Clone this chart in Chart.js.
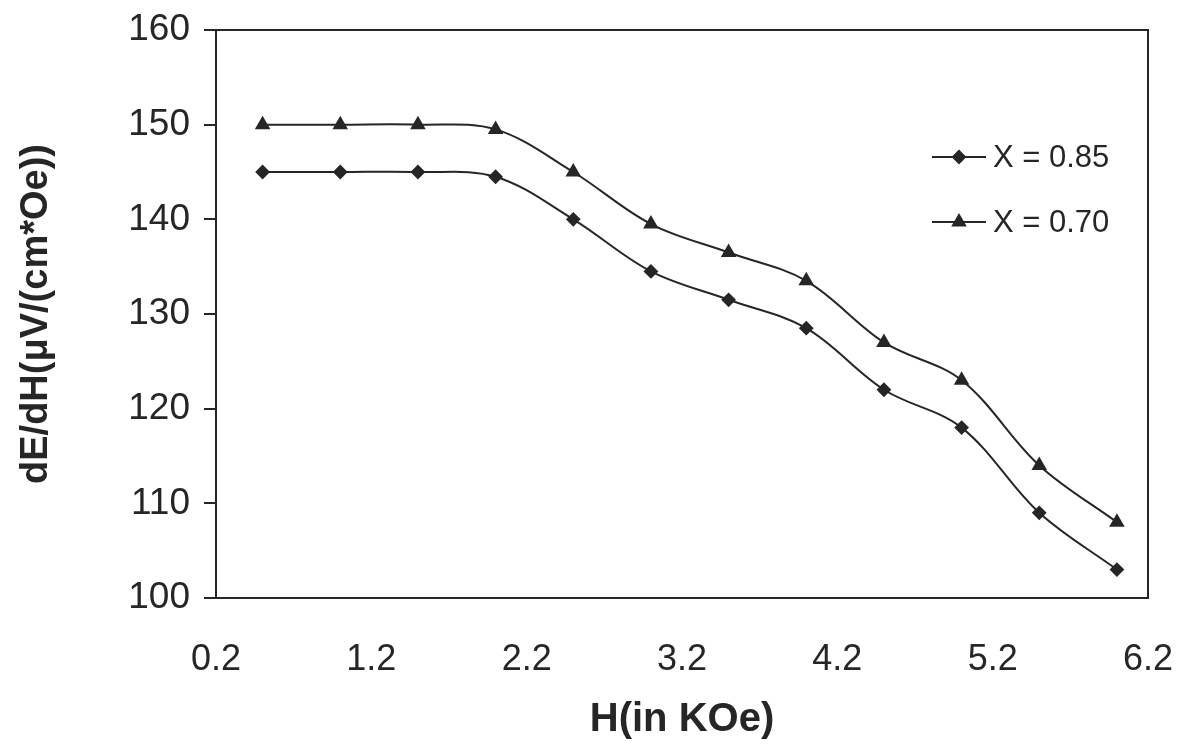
<!DOCTYPE html>
<html>
<head>
<meta charset="utf-8">
<script src="https://cdn.jsdelivr.net/npm/chart.js@4/dist/chart.umd.min.js"></script>
<style>
  html, body { margin: 0; padding: 0; background: #fff; }
  #wrap { width: 1187px; height: 744px; }
</style>
</head>
<body>
<div id="wrap"><canvas id="fieldChart"></canvas></div>
<script>
// Data
const fieldH = [0.5, 1.0, 1.5, 2.0, 2.5, 3.0, 3.5, 4.0, 4.5, 5.0, 5.5, 6.0];
const x085 = [145, 145, 145, 144.5, 140, 134.5, 131.5, 128.5, 122, 118, 109, 103];
const x070 = [150, 150, 150, 149.5, 145, 139.5, 136.5, 133.5, 127, 123, 114, 108];
const xTicks = [0.2, 1.2, 2.2, 3.2, 4.2, 5.2, 6.2];
const yTicks = [100, 110, 120, 130, 140, 150, 160];
const seriesNames = ['X = 0.85', 'X = 0.70'];

const ink = '#262626';
const fontFam = "'Liberation Sans', Arial, sans-serif";

const toPoints = (xs, ys) => xs.map((x, i) => ({ x: x, y: ys[i] }));

// box round the plot area
const frame = {
    id: 'frame',
    afterDraw(chart) {
        const { ctx, chartArea: a } = chart;
        ctx.save();
        ctx.strokeStyle = ink;
        ctx.lineWidth = 2;
        ctx.strokeRect(a.left, a.top, a.right - a.left, a.bottom - a.top);
        ctx.restore();
    }
};

// legend drawn as line + marker + text, like the original
const lineLegend = {
    id: 'lineLegend',
    afterDraw(chart) {
        const ctx = chart.ctx;
        const x0 = 932, x1 = 986, textX = 993;
        const rows = [157, 222];
        ctx.save();
        chart.data.datasets.forEach((ds, i) => {
            const y = rows[i];
            ctx.strokeStyle = ink;
            ctx.lineWidth = 2;
            ctx.beginPath();
            ctx.moveTo(x0, y);
            ctx.lineTo(x1, y);
            ctx.stroke();
            ctx.fillStyle = ink;
            Chart.helpers.drawPoint(ctx, {
                pointStyle: ds.pointStyle,
                radius: ds.pointRadius,
                borderWidth: 1
            }, (x0 + x1) / 2, y);
            ctx.font = "31px " + fontFam;
            ctx.textBaseline = 'middle';
            ctx.fillText(ds.label, textX, y + 1);
        });
        ctx.restore();
    }
};

new Chart(document.getElementById('fieldChart'), {
    type: 'line',
    data: {
        datasets: [
            {
                label: seriesNames[0],
                data: toPoints(fieldH, x085),
                borderColor: ink,
                backgroundColor: ink,
                borderWidth: 2,
                pointStyle: 'rectRot',
                pointRadius: 6,
                pointBorderColor: ink,
                pointBackgroundColor: ink,
                tension: 0.35
            },
            {
                label: seriesNames[1],
                data: toPoints(fieldH, x070),
                borderColor: ink,
                backgroundColor: ink,
                borderWidth: 2,
                pointStyle: 'triangle',
                pointRadius: 7,
                pointBorderColor: ink,
                pointBackgroundColor: ink,
                tension: 0.35
            }
        ]
    },
    options: {
        responsive: true,
        maintainAspectRatio: false,
        animation: false,
        layout: { padding: { top: 30, right: 39, left: 0, bottom: 0 } },
        plugins: {
            legend: { display: false },
            tooltip: { enabled: false }
        },
        scales: {
            x: {
                type: 'linear',
                min: 0.2,
                max: 6.2,
                afterBuildTicks: (scale) => {
                    scale.ticks = xTicks.map(v => ({ value: v }));
                },
                afterFit: (scale) => {
                    scale.height = 146;
                    scale.paddingLeft = 0;
                    scale.paddingRight = 0;
                },
                grid: { display: false, drawTicks: false },
                border: { display: false },
                ticks: {
                    color: ink,
                    padding: 40,
                    maxRotation: 0,
                    font: { family: fontFam, size: 36 },
                    callback: (v) => Number(v).toFixed(1)
                },
                title: {
                    display: true,
                    text: 'H(in KOe)',
                    color: ink,
                    padding: { top: 4, bottom: 0 },
                    font: { family: fontFam, size: 40, weight: 'bold' }
                }
            },
            y: {
                min: 100,
                max: 160,
                afterBuildTicks: (scale) => {
                    scale.ticks = yTicks.map(v => ({ value: v }));
                },
                afterFit: (scale) => {
                    scale.width = 216;
                    scale.paddingTop = 0;
                    scale.paddingBottom = 0;
                },
                grid: {
                    display: true,
                    drawOnChartArea: false,
                    drawTicks: true,
                    tickLength: 12,
                    color: ink,
                    lineWidth: 2
                },
                border: { display: false },
                ticks: {
                    color: ink,
                    padding: 14,
                    font: { family: fontFam, size: 37 }
                },
                title: {
                    display: true,
                    text: 'dE/dH(\u03bcV/(cm*Oe))',
                    color: ink,
                    padding: { top: 14, bottom: 0 },
                    font: { family: fontFam, size: 38, weight: 'bold' }
                }
            }
        }
    },
    plugins: [frame, lineLegend]
});
</script>
</body>
</html>
